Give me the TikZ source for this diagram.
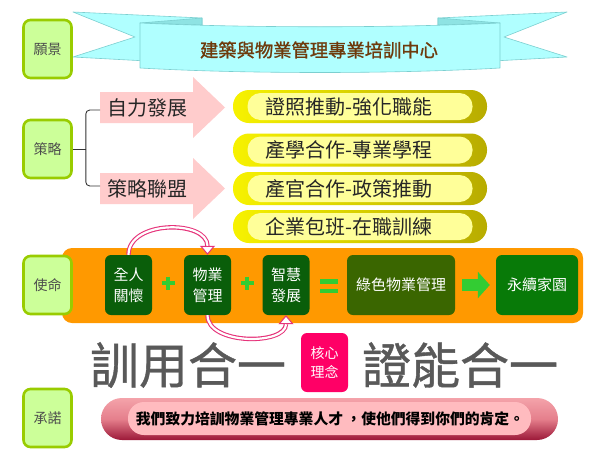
\documentclass[tikz,border=0pt]{standalone}
\usepackage{fontspec}
\newfontfamily\cjk{Noto Sans CJK TC}
\usetikzlibrary{arrows.meta}
\definecolor{lblF}{HTML}{CCFF99}
\definecolor{lblB}{HTML}{99CC00}
\definecolor{lblT}{HTML}{4D4D4D}
\definecolor{ribF}{HTML}{B0FFFF}
\definecolor{ribD}{HTML}{8EE3E3}
\definecolor{ribB}{HTML}{7CCFD0}
\definecolor{headBrown}{HTML}{6E3A0C}
\definecolor{pinkA}{HTML}{FFCCCC}
\definecolor{ylwL}{HTML}{F7F200}
\definecolor{ylwR}{HTML}{B8AC00}
\definecolor{ylwIn}{HTML}{FFFF99}
\definecolor{orng}{HTML}{FF9900}
\definecolor{gDark}{HTML}{0A5E0A}
\definecolor{gOlive}{HTML}{3A6600}
\definecolor{gMid}{HTML}{087A08}
\definecolor{gLight}{HTML}{33CC33}
\definecolor{magent}{HTML}{FF0066}
\definecolor{curveP}{HTML}{E6337A}
\definecolor{bigG}{HTML}{595959}
\definecolor{rosTop}{HTML}{F4A3AA}
\definecolor{rosMid}{HTML}{E57F8C}
\definecolor{rosBot}{HTML}{9C1838}
\definecolor{rosIn}{HTML}{FFBBBF}
\begin{document}
\begin{tikzpicture}[x=1pt,y=-1pt,
  lbl/.style={draw=lblB, line width=2.6pt, fill=lblF, rounded corners=7pt,
    minimum width=48pt, minimum height=58pt, inner sep=0pt, text=lblT,
    font=\cjk\fontsize{14}{16}\selectfont},
  rib/.style={fill=ribF, draw=ribB, line width=0.6pt, line join=round},
  ribfold/.style={fill=ribD, draw=ribB, line width=0.6pt, line join=round},
  title/.style={text=headBrown, inner sep=0pt,
    font=\cjk\addfontfeatures{FakeBold=1.2}\fontsize{18.3}{21}\selectfont},
  brk/.style={draw=black!80, line width=0.9pt},
  atext/.style={text=black!85, inner sep=0pt, font=\cjk\fontsize{20}{24}\selectfont},
  pillout/.style={rounded corners=16pt, minimum width=254pt, minimum height=33pt,
    inner sep=0pt, left color=ylwL, right color=ylwR},
  pillin/.style={rounded corners=13pt, minimum width=225pt, minimum height=27pt,
    inner sep=0pt, fill=ylwIn},
  ptext/.style={text=black!85, inner sep=0pt, font=\cjk\fontsize{20}{24}\selectfont},
  gbox/.style={fill=gDark, rounded corners=6pt, minimum width=47pt, minimum height=60pt,
    inner sep=0pt, text=white, align=center, font=\cjk\fontsize{15}{21}\selectfont},
  plusst/.style={draw=gLight, line width=4.5pt},
  garrow/.style={draw=gLight, line width=12pt, shorten <=7pt, shorten >=6pt,
    -{Triangle[length=12pt,width=26pt]}},
  cpo/.style={draw=curveP, line width=4.4pt,
    -{Triangle[length=9pt,width=15pt,fill=white,line width=1pt]}},
  cpi/.style={draw=white, line width=2.2pt, shorten >=9pt},
  core/.style={fill=magent, rounded corners=6pt, minimum width=47pt, minimum height=59pt,
    inner sep=0pt, text=white, align=center, font=\cjk\fontsize{14}{19}\selectfont},
  big/.style={text=bigG, inner sep=0pt,
    font=\cjk\addfontfeatures{FakeBold=0.8}\fontsize{49}{55}\selectfont},
  rosout/.style={rounded corners=21pt, minimum width=457pt, minimum height=42pt,
    inner sep=0pt, top color=rosTop, bottom color=rosBot, middle color=rosMid},
  rosin/.style={rounded corners=16pt, minimum width=403pt, minimum height=33pt,
    inner sep=0pt, fill=rosIn},
  rtext/.style={text=black, inner sep=0pt, font=\cjk\bfseries\fontsize{14.8}{18}\selectfont}
]
\useasboundingbox (0,0) rectangle (609,458);
\fill[white] (0,0) rectangle (609,458);

% ---- vision ribbon
\filldraw[rib] (73,12) -- (202,18) -- (202,64) -- (73,57) -- (135,37) -- cycle;
\filldraw[rib] (567,12) -- (438,18) -- (438,64) -- (567,57) -- (504,37) -- cycle;
\filldraw[ribfold] (140,23) -- (202,18) -- (202,25) -- cycle;
\filldraw[ribfold] (500,23) -- (438,18) -- (438,25) -- cycle;
\filldraw[rib] (140,23) .. controls (245,28) and (395,28) .. (500,23) -- (500,68)
   .. controls (395,74) and (245,74) .. (140,68) -- cycle;
\node[title] (title) at (319,50) {建築與物業管理專業培訓中心};

\node[lbl] (vision) at (47.5,49) {願景};
\node[lbl] (strategy) at (47.5,149) {策略};

% ---- strategy arrows
\fill[pinkA] (100,92) -- (193,92) -- (193,77) -- (225,107.5) -- (193,138) -- (193,123) -- (100,123) -- cycle;
\node[atext] (selfdev) at (147,107.5) {自力發展};
\fill[pinkA] (100,173) -- (193,173) -- (193,158) -- (225,188.5) -- (193,219) -- (193,204) -- (100,204) -- cycle;
\node[atext] (alliance) at (147,188.5) {策略聯盟};

\coordinate (brA) at (100,110);
\coordinate (brB) at (100,186);
\draw[brk, rounded corners=4pt] (brA) -| ([xshift=13pt]strategy.east) |- (brB);
\draw[brk] (strategy.east) -- ++(13,0);

% ---- pills
\foreach \n/\y/\t in {p1/106.5/證照推動-強化職能, p2/150/產學合作-專業學程,
                      p3/188.5/產官合作-政策推動, p4/226.5/企業包班-在職訓練} {
  \node[pillout] at (360,\y) {};
  \node[pillin] (\n) at (360,\y) {};
  \node[ptext, anchor=west] at ([xshift=18pt]\n.west) {\t};
}

% ---- mission bar
\node[fill=orng, rounded corners=10pt, minimum width=521pt, minimum height=75pt, inner sep=0pt]
  (bar) at (322.5,285.5) {};
\node[lbl] (mission) at (47.5,285) {使命};

\node[gbox] (qr) at (128.5,285) {全人\\關懷};
\node[gbox] (wy) at (207.5,285) {物業\\管理};
\node[gbox] (zh) at (286,285) {智慧\\發展};
\node[gbox, fill=gOlive, minimum width=108pt] (lsw) at (401,285) {綠色物業管理};
\node[gbox, fill=gMid, minimum width=82pt] (yx) at (537,285) {永續家園};

\draw[plusst] (161.5,283) -- (174.5,283) (168,276.5) -- (168,289.5);
\draw[plusst] (240.5,283) -- (253.5,283) (247,276.5) -- (247,289.5);
\fill[gLight] (320,279) rectangle (338,283.5);
\fill[gLight] (320,288.5) rectangle (338,293);
\draw[garrow] (lsw.east) -- (yx.west);

\draw[cpo] (qr.north) .. controls +(0,-35) and +(0,-35) .. (wy.north);
\draw[cpi] (qr.north) .. controls +(0,-35) and +(0,-35) .. (wy.north);
\draw[cpo] (wy.south) .. controls +(0,30) and +(0,30) .. (zh.south);
\draw[cpi] (wy.south) .. controls +(0,30) and +(0,30) .. (zh.south);

% ---- core idea
\node[core] (core) at (324.5,362.5) {核心\\理念};
\node[big] (t1) at (188,365) {訓用合一};
\node[big] (t2) at (460,365) {證能合一};

% ---- promise
\node[lbl] (promise) at (47.5,418) {承諾};
\node[rosout] (po) at (329.5,419) {};
\node[rosin] (pr) at (329.5,418.5) {};
\node[rtext] (ptxt) at (330,418.5) {我們致力培訓物業管理專業人才 ，使他們得到你們的肯定。};
\end{tikzpicture}
\end{document}
